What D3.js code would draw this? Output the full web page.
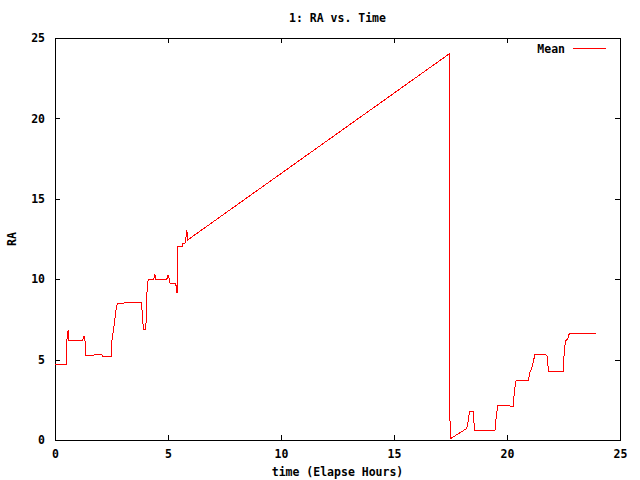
<!DOCTYPE html>
<html>
<head>
<meta charset="utf-8">
<script src="https://cdn.jsdelivr.net/npm/d3@7"></script>
<style>
  body { margin: 0; background: #fff; }
  text { font-family: "DejaVu Sans Mono", monospace; font-weight: bold; font-size: 11.5px; fill: #000; }
</style>
</head>
<body>
<div id="chart"></div>
<script>
// data (hours, RA)
var hours = [0, 0.51, 0.52, 0.58, 0.62, 1.22, 1.28, 1.33, 1.37, 1.68, 1.73, 2.08, 2.12, 2.48, 2.52, 2.59, 2.70, 2.76,
  3.05, 3.10, 3.81, 3.85, 3.89, 3.92, 4.00, 4.05, 4.07, 4.12, 4.35, 4.42, 4.47, 4.94, 5.00, 5.07, 5.09, 5.31, 5.35,
  5.40, 5.44, 5.63, 5.66, 5.75, 5.80, 5.83, 5.88, 8, 10, 12, 14, 16, 17.45, 17.46, 17.48, 17.8, 18.0, 18.22, 18.29,
  18.34, 18.51, 18.56, 19.47, 19.54, 19.60, 20.09, 20.13, 20.28, 20.33, 20.40, 20.94, 21.02, 21.09, 21.18, 21.24,
  21.71, 21.77, 21.84, 22.49, 22.54, 22.61, 22.70, 22.76, 23.92];
var ra = [4.67, 4.67, 6.16, 6.85, 6.16, 6.16, 6.49, 6.16, 5.23, 5.23, 5.29, 5.29, 5.17, 5.17, 6.22, 6.85, 8.09, 8.51,
  8.51, 8.55, 8.55, 8.09, 7.28, 6.85, 6.85, 7.59, 9.17, 9.96, 9.96, 10.27, 9.96, 9.96, 10.27, 9.96, 9.75, 9.75, 9.65,
  9.13, 12.03, 12.03, 12.2, 12.2, 12.65, 13.07, 12.45, 14.57, 16.57, 18.57, 20.57, 22.57, 24.02, 12.03, 0.06, 0.35, 0.52, 0.73, 1.24,
  1.76, 1.76, 0.62, 0.62, 1.68, 2.13, 2.13, 2.11, 2.11, 3.11, 3.67, 3.67, 4.25, 4.42, 4.98, 5.33,
  5.33, 5.23, 4.29, 4.29, 5.71, 6.18, 6.33, 6.64, 6.64];
var xTicks = [0, 5, 10, 15, 20, 25];
var yTicks = [0, 5, 10, 15, 20, 25];

var margin = {top: 38, right: 20, bottom: 40, left: 55},
  width = 640 - margin.left - margin.right,
  height = 480 - margin.top - margin.bottom;

var svg = d3.select("#chart")
  .append("svg")
    .attr("width", 640)
    .attr("height", 480)
  .append("g")
    .attr("transform", "translate(" + margin.left + "," + margin.top + ")");

var x = d3.scaleLinear().domain([0, 25]).range([0, width]);
var y = d3.scaleLinear().domain([0, 25]).range([height, 0]);

// bottom / top axes, ticks pointing inward like gnuplot
svg.append("g")
  .attr("transform", "translate(0," + height + ")")
  .call(d3.axisBottom(x).tickValues(xTicks).tickSizeInner(-5).tickSizeOuter(0).tickPadding(10))
svg.append("g")
  .call(d3.axisTop(x).tickValues(xTicks).tickSizeInner(-5).tickSizeOuter(0).tickFormat(""))
svg.append("g")
  .call(d3.axisLeft(y).tickValues(yTicks).tickSizeInner(-5).tickSizeOuter(0).tickPadding(10))
svg.append("g")
  .attr("transform", "translate(" + width + ",0)")
  .call(d3.axisRight(y).tickValues(yTicks).tickSizeInner(-5).tickSizeOuter(0).tickFormat(""))

svg.selectAll(".domain, .tick line")
  .attr("stroke", "#000")
  .attr("shape-rendering", "crispEdges");
svg.selectAll(".tick text")
  .style("font-family", "'DejaVu Sans Mono', monospace")
  .style("font-weight", "bold")
  .style("font-size", "11.5px");

// border
svg.append("rect")
  .attr("width", width)
  .attr("height", height)
  .attr("fill", "none")
  .attr("stroke", "#000")
  .attr("shape-rendering", "crispEdges");

var pts = hours.map(function(h, i) { return [h, ra[i]]; });
var line = d3.line()
  .x(function(d) { return x(d[0]); })
  .y(function(d) { return y(d[1]); });

svg.append("path")
  .datum(pts)
  .attr("d", line)
  .attr("fill", "none")
  .attr("stroke", "#ff0000")
  .attr("stroke-width", 1)
  .attr("shape-rendering", "crispEdges");

// legend
svg.append("text")
  .attr("x", 510)
  .attr("y", 15)
  .attr("text-anchor", "end")
  .text("Mean");
svg.append("line")
  .attr("x1", 518).attr("x2", 551)
  .attr("y1", 10.5).attr("y2", 10.5)
  .attr("stroke", "#ff0000")
  .attr("shape-rendering", "crispEdges");

// title and axis labels
svg.append("text")
  .attr("x", width / 2)
  .attr("y", -16)
  .attr("text-anchor", "middle")
  .text("1: RA vs. Time");
svg.append("text")
  .attr("x", width / 2)
  .attr("y", height + 36)
  .attr("text-anchor", "middle")
  .text("time (Elapse Hours)");
svg.append("text")
  .attr("transform", "translate(-39," + (height / 2) + ")rotate(-90)")
  .attr("text-anchor", "middle")
  .text("RA");
</script>
</body>
</html>
